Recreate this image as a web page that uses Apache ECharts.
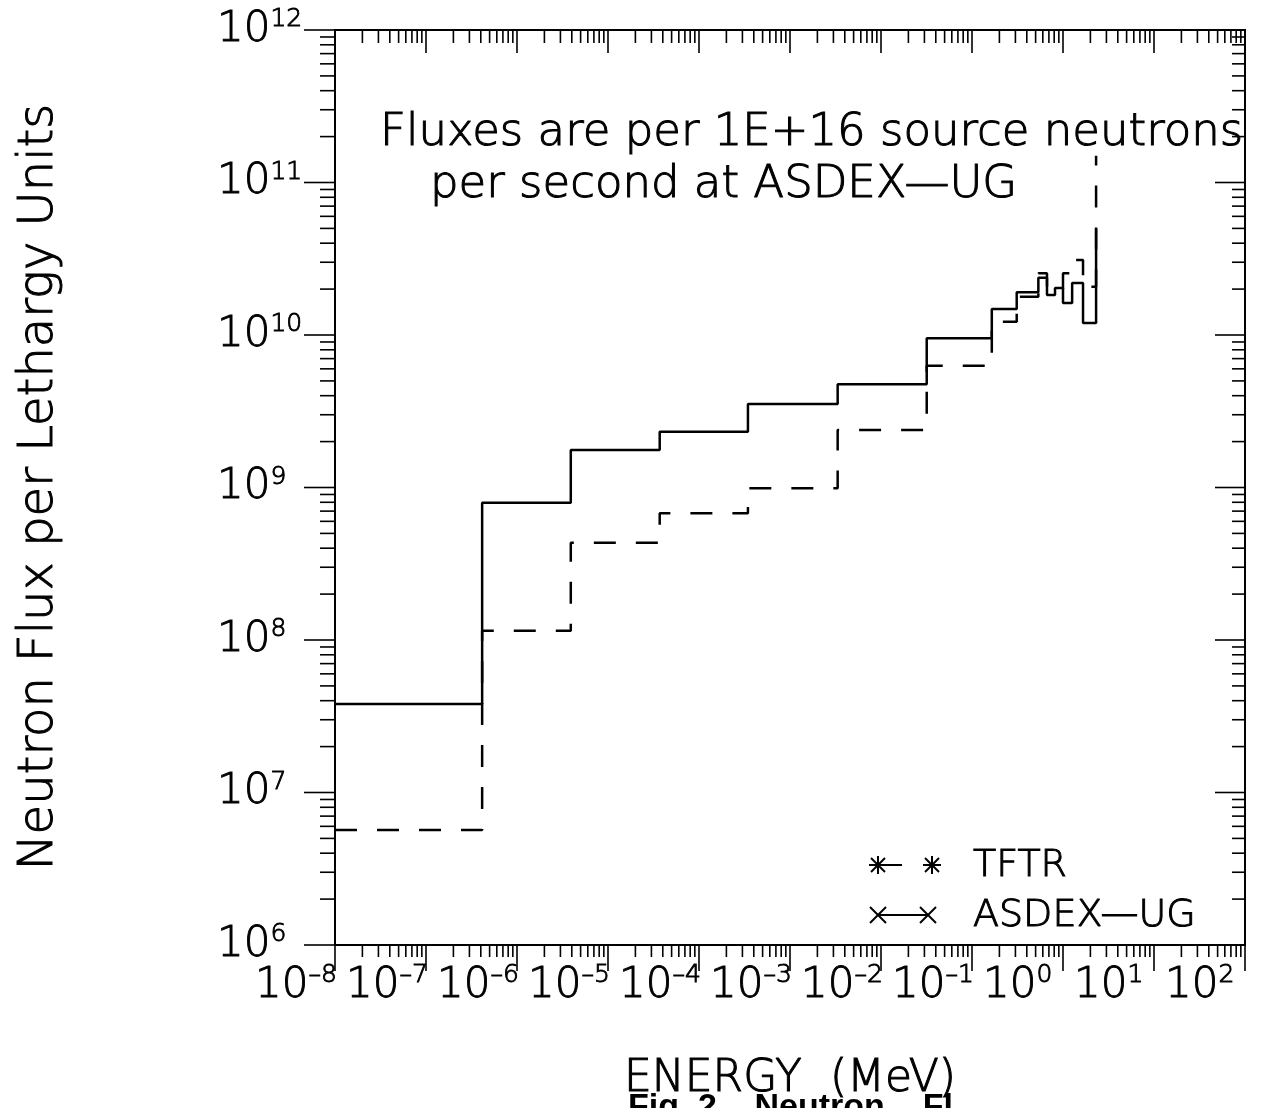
<!DOCTYPE html>
<html>
<head>
<meta charset="utf-8">
<script src="https://cdn.jsdelivr.net/npm/echarts@6/dist/echarts.min.js"></script>
<style>
  html, body { margin: 0; padding: 0; background: #fff; }
  #chart { width: 1285px; height: 1108px; }
</style>
</head>
<body>
<div id="chart"></div>
<script>
// Energy group boundaries (MeV) shared by both spectra
const binEdges = [1e-8, 4.14e-7, 3.9e-6, 3.7e-5, 3.45e-4, 3.34e-3, 3.18e-2, 0.165, 0.31, 0.536, 0.667, 0.817, 1.0, 1.26, 1.66, 2.31];
// Flux per lethargy in each group (per 1E+16 source n/s)
const asdexFlux = [3.80e7, 7.94e8, 1.76e9, 2.32e9, 3.53e9, 4.75e9, 9.51e9, 1.48e10, 1.91e10, 2.37e10, 1.83e10, 2.03e10, 1.62e10, 2.19e10, 1.20e10];
const tftrFlux  = [5.68e6, 1.15e8, 4.34e8, 6.77e8, 9.88e8, 2.38e9, 6.29e9, 1.22e10, 1.78e10, 2.54e10, 1.98e10, 1.98e10, 2.54e10, 3.10e10, 2.07e10];
// level reached by the closing edge of the top group
const asdexTopEdgeFlux = 5.0e10;
const tftrTopEdgeFlux = 1.5e11;
// Axis ranges (decades)
const xDecades = [-8, -7, -6, -5, -4, -3, -2, -1, 0, 1, 2];
const yDecades = [6, 7, 8, 9, 10, 11, 12];

const X_MIN = Math.pow(10, xDecades[0]), X_MAX = Math.pow(10, xDecades[xDecades.length - 1]);
const Y_MIN = Math.pow(10, yDecades[0]), Y_MAX = Math.pow(10, yDecades[yDecades.length - 1]);

const FONT = 'DejaVu Sans';
const FW = 200;
// outline that thickens the light face a little
const INK = { fill: '#000', stroke: '#000', lineWidth: 1.0 };

// histogram: one point per lower edge, a closing point at the last upper edge,
// then the closing vertical edge
function stepData(edges, vals, closeTo) {
  const pts = vals.map((v, i) => [edges[i], v]);
  pts.push([edges[vals.length], vals[vals.length - 1]]);
  pts.push([edges[vals.length], closeTo]);
  return pts;
}
const asdexData = stepData(binEdges, asdexFlux, asdexTopEdgeFlux);
const tftrData = stepData(binEdges, tftrFlux, tftrTopEdgeFlux);

function expOf(v) { return Math.round(Math.log10(v)); }
function supText(e) { return (e < 0 ? '\u2013' + (-e) : String(e)); }

// rich styles for axis-model labels (echarts label naming)
const powRichAxis = {
  b: { fontFamily: FONT, fontWeight: FW, fontSize: 42, lineHeight: 46, color: '#000', textBorderColor: '#000', textBorderWidth: 0.9 },
  s: { fontFamily: FONT, fontWeight: FW, fontSize: 25, lineHeight: 25, color: '#000', textBorderColor: '#000', textBorderWidth: 0.9, verticalAlign: 'top' }
};
// same look for elements built in renderItem (zrender naming)
const powRichEl = {
  b: { fontFamily: FONT, fontWeight: FW, fontSize: 42, lineHeight: 46, fill: '#000', stroke: '#000', lineWidth: 0.9 },
  s: { fontFamily: FONT, fontWeight: FW, fontSize: 25, lineHeight: 25, fill: '#000', stroke: '#000', lineWidth: 0.9, verticalAlign: 'top' }
};

const chart = echarts.init(document.getElementById('chart'), null, { renderer: 'canvas' });

const option = {
  backgroundColor: '#fff',
  animation: false,
  grid: {
    left: 335, top: 30, right: 40, bottom: 163, outerBoundsMode: 'none', containLabel: false,
    show: true, borderColor: '#000', borderWidth: 2, backgroundColor: 'transparent'
  },
  xAxis: {
    type: 'log', logBase: 10, min: X_MIN, max: X_MAX, splitNumber: 10,
    axisLine: { show: false }, axisTick: { show: false }, splitLine: { show: false }, minorTick: { show: false },
    axisLabel: { show: false }
  },
  yAxis: {
    type: 'log', logBase: 10, min: Y_MIN, max: Y_MAX, splitNumber: 6,
    axisLine: { show: false }, axisTick: { show: false }, splitLine: { show: false }, minorTick: { show: false },
    axisLabel: {
      margin: 118, align: 'left', verticalAlign: 'middle',
      formatter: v => '{b|10}{s|' + supText(expOf(v)) + '}',
      rich: powRichAxis
    }
  },
  series: [
    {
      name: 'ASDEX-UG', type: 'line', step: 'end', showSymbol: false, data: asdexData,
      lineStyle: { color: '#000', width: 2.5 }, z: 3
    },
    {
      name: 'TFTR', type: 'line', step: 'end', showSymbol: false, data: tftrData,
      lineStyle: { color: '#000', width: 2.5, type: [22, 20] }, z: 3
    },
    {
      // log-spaced major/minor ticks on all four frame sides, plus the energy decade labels
      type: 'custom', coordinateSystem: 'cartesian2d', silent: true, clip: false, z: 5,
      data: [[1, 1e9]],
      renderItem: function (params, api) {
        const bl = api.coord([X_MIN, Y_MIN]);
        const tr = api.coord([X_MAX, Y_MAX]);
        const kids = [];
        const seg = (x1, y1, x2, y2) => kids.push({ type: 'line', shape: { x1, y1, x2, y2 }, style: { stroke: '#000', lineWidth: 1.6 } });
        xDecades.forEach((d, i) => {
          for (let m = 1; m <= 9; m++) {
            if (i === xDecades.length - 1 && m > 1) break;
            const x = api.coord([m * Math.pow(10, d), Y_MIN])[0];
            const major = m === 1;
            seg(x, bl[1], x, bl[1] + (major ? 26 : 12));
            seg(x, tr[1], x, tr[1] + (major ? 23 : 13));
          }
          const xd = api.coord([Math.pow(10, d), Y_MIN])[0];
          kids.push({
            type: 'text', x: xd - 80, y: bl[1] + 18,
            style: { text: '{b|10}{s|' + supText(d) + '}', rich: powRichEl, align: 'left', verticalAlign: 'top' }
          });
        });
        yDecades.forEach((d, i) => {
          for (let m = 1; m <= 9; m++) {
            if (i === yDecades.length - 1 && m > 1) break;
            const y = api.coord([X_MIN, m * Math.pow(10, d)])[1];
            const major = m === 1;
            seg(bl[0] - (major ? 31 : 15), y, bl[0], y);
            seg(tr[0] - (major ? 30 : 13), y, tr[0], y);
          }
        });
        return { type: 'group', children: kids };
      }
    }
  ],
  graphic: [
    { type: 'text', x: 380, y: 133, style: Object.assign({ text: 'Fluxes are per 1E+16 source neutrons', fontFamily: FONT, fontWeight: FW, fontSize: 45, textVerticalAlign: 'middle' }, INK) },
    { type: 'text', x: 430, y: 185, style: Object.assign({ text: 'per second at ASDEX\u2014UG', fontFamily: FONT, fontWeight: FW, fontSize: 45, textVerticalAlign: 'middle' }, INK) },
    { type: 'text', x: 40, y: 487, rotation: Math.PI / 2, style: Object.assign({ text: 'Neutron Flux per Lethargy Units', fontFamily: FONT, fontWeight: FW, fontSize: 48, textAlign: 'center', textVerticalAlign: 'middle' }, INK) },
    { type: 'text', x: 790, y: 1080, style: Object.assign({ text: 'ENERGY  (MeV)', fontFamily: FONT, fontWeight: FW, fontSize: 44, textAlign: 'center', textVerticalAlign: 'middle' }, INK) },
    { type: 'text', x: 628, y: 1091, style: { text: 'Fig. 2    Neutron    Fl', fontFamily: 'Liberation Sans', fontWeight: 'bold', fontSize: 34, fill: '#000', textVerticalAlign: 'top' } },
    // key
    {
      type: 'group', children: [
        { type: 'line', shape: { x1: 878, y1: 865, x2: 902, y2: 865 }, style: { stroke: '#000', lineWidth: 2 } },
        { type: 'line', shape: { x1: 869, y1: 865, x2: 887, y2: 865 }, style: { stroke: '#000', lineWidth: 2 } },
        { type: 'line', shape: { x1: 878, y1: 856, x2: 878, y2: 874 }, style: { stroke: '#000', lineWidth: 2 } },
        { type: 'line', shape: { x1: 871, y1: 858, x2: 885, y2: 872 }, style: { stroke: '#000', lineWidth: 2 } },
        { type: 'line', shape: { x1: 871, y1: 872, x2: 885, y2: 858 }, style: { stroke: '#000', lineWidth: 2 } },
        { type: 'line', shape: { x1: 923, y1: 865, x2: 941, y2: 865 }, style: { stroke: '#000', lineWidth: 2 } },
        { type: 'line', shape: { x1: 932, y1: 856, x2: 932, y2: 874 }, style: { stroke: '#000', lineWidth: 2 } },
        { type: 'line', shape: { x1: 925, y1: 858, x2: 939, y2: 872 }, style: { stroke: '#000', lineWidth: 2 } },
        { type: 'line', shape: { x1: 925, y1: 872, x2: 939, y2: 858 }, style: { stroke: '#000', lineWidth: 2 } },
        { type: 'text', x: 973, y: 866, style: Object.assign({ text: 'TFTR', fontFamily: FONT, fontWeight: FW, fontSize: 38, textVerticalAlign: 'middle' }, INK) },
        { type: 'line', shape: { x1: 878, y1: 915, x2: 928, y2: 915 }, style: { stroke: '#000', lineWidth: 2 } },
        { type: 'line', shape: { x1: 870, y1: 907, x2: 886, y2: 923 }, style: { stroke: '#000', lineWidth: 2 } },
        { type: 'line', shape: { x1: 870, y1: 923, x2: 886, y2: 907 }, style: { stroke: '#000', lineWidth: 2 } },
        { type: 'line', shape: { x1: 920, y1: 907, x2: 936, y2: 923 }, style: { stroke: '#000', lineWidth: 2 } },
        { type: 'line', shape: { x1: 920, y1: 923, x2: 936, y2: 907 }, style: { stroke: '#000', lineWidth: 2 } },
        { type: 'text', x: 973, y: 916, style: Object.assign({ text: 'ASDEX\u2014UG', fontFamily: FONT, fontWeight: FW, fontSize: 38, textVerticalAlign: 'middle' }, INK) }
      ]
    }
  ]
};

chart.setOption(option);
</script>
</body>
</html>
